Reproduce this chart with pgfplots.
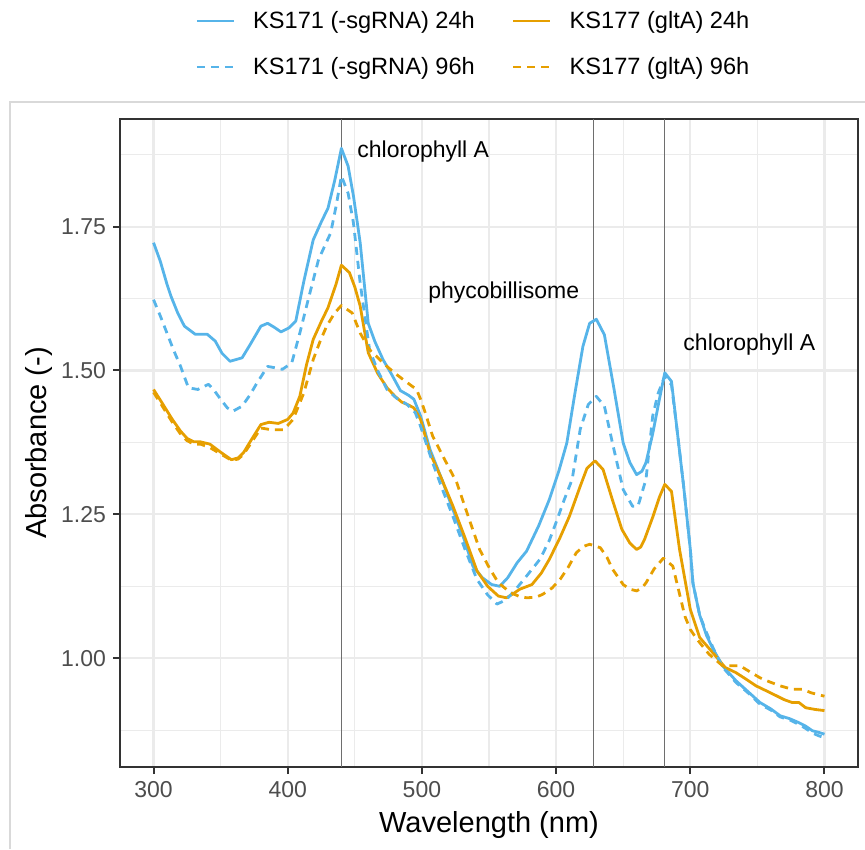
\documentclass[border=0pt]{standalone}
\usepackage{fontspec}
\setmainfont{Liberation Sans}
\usepackage{pgfplots}
\pgfplotsset{compat=1.18}
\definecolor{cblue}{HTML}{56B4E9}
\definecolor{corange}{HTML}{E69F00}
\definecolor{gridc}{HTML}{EBEBEB}
\definecolor{grey20}{HTML}{333333}
\definecolor{grey30}{HTML}{4D4D4D}
\definecolor{vline}{HTML}{6E6E6E}
\begin{document}
\begin{tikzpicture}
\useasboundingbox (0,0) rectangle (432.5pt,424.5pt);
\draw[color=black!15, line width=0.6pt] (5pt,0pt) -- (5pt,373.5pt) -- (432.5pt,373.5pt);
\begin{axis}[
  at={(60pt,41pt)}, anchor=south west,
  scale only axis, width=369pt, height=324pt,
  xmin=275, xmax=825, ymin=0.811, ymax=1.937,
  xtick={300,400,...,800},
  ytick={1.00,1.25,1.50,1.75},
  minor xtick={350,450,550,650,750},
  minor ytick={0.875,1.125,1.375,1.625,1.875},
  grid=both,
  major grid style={color=gridc, line width=1.1pt},
  minor grid style={color=gridc, line width=0.55pt},
  minor tick length=0pt,
  major tick length=3.5pt,
  tick align=outside,
  xtick pos=bottom, ytick pos=left,
  tick style={color=grey20, line width=1pt},
  axis line style={color=grey20, line width=1pt},
  /pgf/number format/assume math mode=true,
  yticklabel style={/pgf/number format/fixed, /pgf/number format/fixed zerofill, /pgf/number format/precision=2},
  ticklabel style={font=\fontsize{11.5}{13}\selectfont, color=grey30},
  label style={font=\fontsize{14.5}{17}\selectfont, color=black},
  xlabel={Wavelength (nm)},
  ylabel={Absorbance (-)},
  xlabel style={at={(axis description cs:0.5,-0.0895)}, anchor=center},
  ylabel style={at={(axis description cs:-0.1098,0.5)}, anchor=center, rotate=0},
  legend columns=2,
  legend style={draw=none, fill=none, at={(axis description cs:0.1016,1.1157)}, anchor=west,
    inner sep=0pt, font=\fontsize{11.8}{13}\selectfont,
    nodes={inner xsep=0pt, inner ysep=0pt},
    row sep=13pt,
    /tikz/every odd column/.append style={column sep=9pt},
    /tikz/every even column/.append style={column sep=18.5pt}},
  legend cell align=left,
  legend image code/.code={\draw[#1] (0pt,0pt) -- (18.5pt,0pt);},
  every axis plot/.append style={line width=1.4pt, line join=round},
  clip=true,
]
\addplot[forget plot, color=vline, line width=0.55pt] coordinates {(440,0.811) (440,1.937)};
\addplot[forget plot, color=vline, line width=0.55pt] coordinates {(628,0.811) (628,1.937)};
\addplot[forget plot, color=vline, line width=0.55pt] coordinates {(681,0.811) (681,1.937)};

\addplot[color=cblue] coordinates {
(300,1.722)(305,1.69)(310,1.65)(313,1.629)(318,1.60)(323,1.577)(331,1.563)(340,1.563)(346,1.551)(351,1.53)(357,1.516)(366,1.522)(372,1.545)(380,1.577)(385,1.582)(390,1.575)(395,1.567)(401,1.574)(406,1.586)(412,1.655)(419,1.727)(425,1.758)(430,1.782)(435,1.83)(440,1.886)(445,1.855)(449,1.803)(454,1.722)(460,1.582)(465,1.55)(471,1.519)(477,1.495)(484,1.465)(490,1.457)(494,1.45)(499,1.421)(506,1.363)(515,1.31)(523,1.259)(531,1.21)(538,1.160)(545,1.14)(552,1.128)(558,1.125)(564,1.14)(571,1.166)(578,1.186)(587,1.23)(595,1.276)(602,1.325)(608,1.374)(614,1.46)(620,1.542)(625,1.582)(630,1.589)(636,1.562)(643,1.47)(650,1.374)(655,1.34)(660,1.319)(664,1.325)(667,1.340)(672,1.39)(677,1.45)(681,1.496)(686,1.481)(690,1.40)(695,1.30)(700,1.19)(702,1.13)(707,1.075)(712,1.04)(717,1.016)(724,0.987)(734,0.961)(743,0.942)(752,0.923)(760,0.912)(767,0.900)(774,0.895)(781,0.888)(786,0.882)(791,0.874)(796,0.871)(800,0.868)};
\addlegendentry{KS171 (-sgRNA) 24h}

\addplot[color=corange] coordinates {
(300,1.467)(306,1.445)(314,1.415)(320,1.395)(325,1.382)(330,1.376)(335,1.376)(342,1.372)(350,1.358)(358,1.345)(363,1.348)(367,1.357)(373,1.38)(380,1.406)(386,1.410)(393,1.408)(400,1.415)(404,1.426)(409,1.455)(414,1.51)(419,1.554)(425,1.585)(430,1.609)(436,1.65)(440,1.683)(446,1.670)(450,1.645)(454,1.612)(460,1.531)(467,1.495)(474,1.470)(480,1.455)(485,1.445)(490,1.44)(494,1.435)(499,1.415)(506,1.357)(515,1.31)(523,1.265)(532,1.21)(541,1.152)(549,1.125)(557,1.108)(563,1.105)(568,1.112)(573,1.120)(582,1.128)(589,1.148)(595,1.172)(603,1.21)(610,1.247)(618,1.299)(623,1.33)(629,1.343)(635,1.328)(642,1.275)(649,1.224)(655,1.200)(660,1.189)(663,1.193)(666,1.207)(672,1.245)(677,1.28)(681,1.302)(686,1.290)(692,1.189)(700,1.085)(707,1.036)(717,1.009)(726,0.984)(734,0.975)(742,0.963)(749,0.952)(757,0.943)(764,0.935)(770,0.928)(776,0.923)(781,0.923)(786,0.914)(793,0.911)(800,0.909)};
\addlegendentry{KS177 (gltA) 24h}

\addplot[color=cblue, dash pattern=on 4pt off 3pt] coordinates {
(300,1.623)(305,1.595)(310,1.565)(315,1.535)(320,1.508)(326,1.470)(333,1.467)(341,1.476)(345,1.466)(350,1.450)(355,1.435)(359,1.429)(366,1.438)(372,1.458)(377,1.478)(385,1.507)(390,1.505)(396,1.502)(403,1.513)(409,1.565)(416,1.63)(423,1.693)(432,1.739)(436,1.785)(440,1.838)(445,1.808)(449,1.756)(454,1.652)(461,1.536)(467,1.50)(474,1.467)(481,1.452)(489,1.441)(495,1.427)(499,1.403)(508,1.340)(515,1.295)(523,1.247)(532,1.19)(541,1.137)(549,1.11)(556,1.094)(563,1.102)(570,1.12)(576,1.137)(588,1.172)(595,1.205)(600,1.236)(606,1.275)(612,1.311)(618,1.398)(624,1.441)(630,1.455)(636,1.438)(642,1.374)(650,1.293)(657,1.264)(661,1.264)(667,1.311)(672,1.421)(676,1.46)(681,1.490)(686,1.475)(690,1.40)(695,1.30)(700,1.19)(702,1.13)(707,1.075)(712,1.045)(717,1.018)(724,0.985)(734,0.958)(743,0.940)(752,0.92)(760,0.91)(767,0.898)(774,0.893)(781,0.885)(786,0.878)(791,0.87)(796,0.865)(800,0.862)};
\addlegendentry{KS171 (-sgRNA) 96h}

\addplot[color=corange, dash pattern=on 4pt off 3pt] coordinates {
(300,1.462)(306,1.44)(314,1.410)(320,1.39)(325,1.378)(330,1.372)(335,1.372)(342,1.366)(350,1.355)(358,1.344)(363,1.346)(367,1.354)(373,1.375)(380,1.400)(388,1.397)(397,1.397)(404,1.415)(412,1.461)(419,1.519)(424,1.55)(429,1.577)(435,1.60)(440,1.613)(448,1.600)(454,1.565)(461,1.536)(466,1.525)(471,1.513)(480,1.495)(489,1.479)(496,1.467)(499,1.45)(502,1.43)(508,1.386)(517,1.345)(526,1.305)(534,1.25)(543,1.189)(550,1.158)(557,1.131)(566,1.114)(572,1.108)(578,1.105)(585,1.106)(590,1.111)(597,1.122)(603,1.137)(609,1.158)(615,1.183)(620,1.194)(625,1.198)(633,1.192)(638,1.175)(642,1.155)(650,1.128)(655,1.120)(660,1.117)(664,1.122)(667,1.131)(673,1.155)(680,1.174)(687,1.160)(690,1.131)(696,1.073)(700,1.05)(705,1.033)(714,1.007)(724,0.987)(730,0.987)(737,0.987)(744,0.977)(752,0.966)(759,0.959)(767,0.952)(776,0.946)(784,0.946)(790,0.940)(794,0.9375)(800,0.934)};
\addlegendentry{KS177 (gltA) 96h}

\node[font=\fontsize{11.5}{13}\selectfont] at (axis cs:501,1.88) {chlorophyll A};
\node[font=\fontsize{11.5}{13}\selectfont] at (axis cs:561,1.635) {phycobillisome};
\node[font=\fontsize{11.5}{13}\selectfont] at (axis cs:744,1.545) {chlorophyll A};
\end{axis}
\end{tikzpicture}
\end{document}
